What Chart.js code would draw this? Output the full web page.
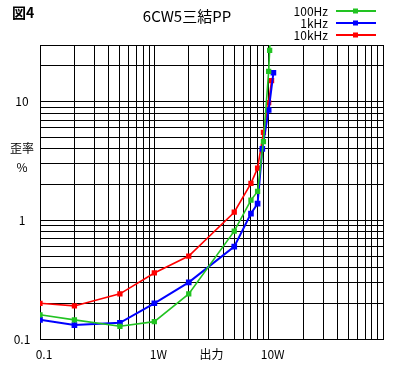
<!DOCTYPE html>
<html>
<head>
<meta charset="utf-8">
<script src="https://cdn.jsdelivr.net/npm/chart.js@4"></script>
<style>
  html, body { margin: 0; padding: 0; background: #fff; }
  #wrap { width: 400px; height: 368px; }
</style>
</head>
<body>
<div id="wrap"><canvas id="chart" width="400" height="368"></canvas></div>
<script>
const seriesNames = ["100Hz", "1kHz", "10kHz"];
const seriesColors = ["#22c322", "#0000ff", "#ff0000"];

// output power (W) and distortion (%) per series
const power100 = [0.1, 0.2, 0.5, 1, 2, 5, 7, 8, 9, 10, 10.2, 10.35];
const dist100 = [0.16, 0.145, 0.128, 0.14, 0.24, 0.81, 1.48, 1.75, 4.6, 18, 27, 40];
const power1k = [0.1, 0.2, 0.5, 1, 2, 5, 7, 8, 8.8, 10, 11];
const dist1k = [0.145, 0.131, 0.137, 0.2, 0.3, 0.6, 1.14, 1.38, 4.0, 8.5, 17.5];
const power10k = [0.1, 0.2, 0.5, 1, 2, 5, 7, 8, 9, 10, 10.6];
const dist10k = [0.2, 0.19, 0.24, 0.36, 0.5, 1.17, 2.05, 2.75, 5.5, 9.8, 15];

const xGrid = [0.1, 0.2, 0.3, 0.4, 0.5, 0.6, 0.7, 0.8, 0.9, 1, 2, 3, 4, 5, 6, 7, 8, 9, 10,
  20, 30, 40, 50, 60, 70, 80, 90, 100];
const yGrid = [0.1, 0.2, 0.3, 0.4, 0.5, 0.6, 0.7, 0.8, 0.9, 1, 2, 3, 4, 5, 6, 7, 8, 9, 10, 20, 30];
const xLabels = [[0.1, "0.1"], [1, "1W"], [10, "10W"]];
const yLabels = [[10, "10"], [1, "1"], [0.1, "0.1"]];

const FONT = "'Noto Sans CJK JP', 'DejaVu Sans', sans-serif";

function pairs(xs, ys) {
  return xs.map((x, i) => ({ x, y: ys[i] }));
}

const seriesData = [pairs(power100, dist100), pairs(power1k, dist1k), pairs(power10k, dist10k)];

const decor = {
  id: "decor",
  afterDraw(chart) {
    const { ctx, chartArea, scales } = chart;
    ctx.save();
    ctx.fillStyle = "#000";
    ctx.textBaseline = "middle";

    ctx.font = "bold 14px " + FONT;
    ctx.textAlign = "left";
    ctx.fillText("図4", 12, 13);

    ctx.font = "15px " + FONT;
    ctx.textAlign = "center";
    ctx.fillText("6CW5三結PP", 187, 16);

    // legend
    ctx.font = "12px " + FONT;
    seriesNames.forEach((name, i) => {
      const y = 11 + i * 12;
      ctx.fillStyle = "#000";
      ctx.textAlign = "right";
      ctx.fillText(name, 328, y);
      ctx.strokeStyle = seriesColors[i];
      ctx.lineWidth = 2;
      ctx.beginPath();
      ctx.moveTo(336, y);
      ctx.lineTo(376, y);
      ctx.stroke();
      ctx.fillStyle = seriesColors[i];
      ctx.fillRect(353, y - 2.5, 5, 5);
    });

    // tick labels
    ctx.fillStyle = "#000";
    ctx.font = "12px " + FONT;
    ctx.textAlign = "center";
    xLabels.forEach(([v, t]) => {
      ctx.fillText(t, scales.x.getPixelForValue(v) + 4, chartArea.bottom + 15);
    });
    yLabels.forEach(([v, t]) => {
      ctx.fillText(t, 22, scales.y.getPixelForValue(v));
    });
    ctx.fillText("出力", (chartArea.left + chartArea.right) / 2, chartArea.bottom + 15);
    ctx.fillText("歪率", 22, 148);
    ctx.fillText("%", 22, 167);
    ctx.restore();
  },
};

new Chart(document.getElementById("chart"), {
  type: "line",
  data: {
    datasets: seriesNames.map((name, i) => ({
      label: name,
      data: seriesData[i],
      borderColor: seriesColors[i],
      backgroundColor: seriesColors[i],
      borderWidth: i === 1 ? 2 : 1.6,
      pointStyle: "rect",
      pointRadius: 2.6,
      pointHoverRadius: 2.6,
      tension: 0,
      fill: false,
    })),
  },
  options: {
    responsive: false,
    animation: false,
    events: [],
    layout: { padding: { left: 40, right: 17, top: 45, bottom: 29 } },
    plugins: { legend: { display: false }, title: { display: false }, tooltip: { enabled: false } },
    scales: {
      x: {
        type: "logarithmic",
        min: 0.1,
        max: 100,
        afterBuildTicks: (axis) => { axis.ticks = xGrid.map((v) => ({ value: v })); },
        ticks: { display: false, autoSkip: false },
        grid: { color: "#000", lineWidth: 1, drawTicks: false },
        border: { color: "#000", width: 1 },
      },
      y: {
        type: "logarithmic",
        min: 0.1,
        max: 30,
        afterBuildTicks: (axis) => { axis.ticks = yGrid.map((v) => ({ value: v })); },
        ticks: { display: false, autoSkip: false },
        grid: { color: "#000", lineWidth: 1, drawTicks: false },
        border: { color: "#000", width: 1 },
      },
    },
  },
  plugins: [decor],
});
</script>
</body>
</html>
